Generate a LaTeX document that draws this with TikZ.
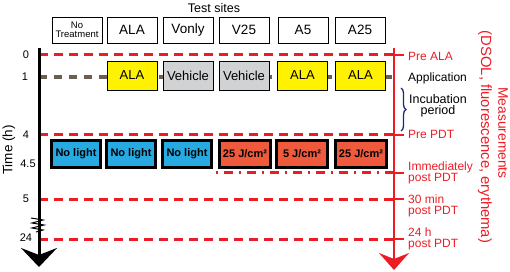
\documentclass[tikz,border=0pt]{standalone}
\usepackage{fontspec}
\setmainfont{Liberation Sans}
\usetikzlibrary{arrows.meta,decorations.pathreplacing}
\definecolor{myred}{HTML}{ED1C24}
\definecolor{myyellow}{HTML}{FFF200}
\definecolor{mygray}{HTML}{D1D2D4}
\definecolor{myblue}{HTML}{27AAE1}
\definecolor{myorange}{HTML}{F05A3C}
\definecolor{mybrown}{HTML}{6B5E52}
\definecolor{mynavy}{HTML}{1B2A78}
\newcommand{\fs}[1]{\fontsize{#1}{#1}\selectfont}
\tikzset{
  headbox/.style={draw, line width=0.9pt, minimum width=50pt, minimum height=26pt, inner sep=0pt, font=\fs{13.5}},
  appbox/.style={draw, line width=0.9pt, minimum width=50pt, minimum height=29pt, inner sep=0pt, font=\fs{13}},
  pdtbox/.style={draw, line width=3pt, minimum height=27pt, inner sep=0pt, font=\bfseries\fs{11}},
  reddash/.style={myred, line width=3pt, dash pattern=on 9pt off 6pt},
  tick/.style={font=\fs{11}},
  rlab/.style={anchor=west, font=\fs{12}, inner sep=0pt, align=left},
}
\begin{document}
\begin{tikzpicture}[x=1pt,y=-1pt]
\useasboundingbox (0,0) rectangle (510,272);

% title
\node[font=\fs{12.5}] (title) at (214,8) {Test sites};

% header boxes
\node[headbox, align=center, font=\fs{9.5}] (hNT) at (77,30) {No\\[-1pt]Treatment};
\node[headbox] (hALA) at (132,30) {ALA};
\node[headbox] (hVonly) at (188,30) {Vonly};
\node[headbox] (hV25) at (244,30) {V25};
\node[headbox] (hA5) at (303,30) {A5};
\node[headbox] (hA25) at (360,30) {A25};

% axes coordinates
\coordinate (Ltop) at (39,48);
\coordinate (Lbot) at (39,267);
\coordinate (Rtop) at (394,48);
\coordinate (Rbot) at (394,270);
\coordinate (L0) at (39,55);   \coordinate (R0) at (394,55);
\coordinate (L1) at (39,77);   \coordinate (R1) at (398,77);
\coordinate (L4) at (39,135);  \coordinate (R4) at (394,135);
\coordinate (M45) at (216,173); \coordinate (R45) at (394,173);
\coordinate (L5) at (39,199);  \coordinate (R5) at (394,199);
\coordinate (L24) at (39,239); \coordinate (R24) at (394,239);

% dashed lines
\draw[mybrown, line width=3.2pt, dash pattern=on 8.3pt off 6.7pt] (L1) -- (R1);
\draw[reddash] (L0) -- (R0);
\draw[reddash] (L4) -- (R4);
\draw[reddash, dash pattern=on 2pt off 6pt on 9pt off 6pt] (M45) -- (R45);
\draw[reddash] (L5) -- (R5);
\draw[reddash] (L24) -- (R24);

% application boxes
\node[appbox, fill=myyellow] (aALA1) at (132,75.5) {ALA};
\node[appbox, fill=mygray] (aVeh1) at (188,75.5) {Vehicle};
\node[appbox, fill=mygray] (aVeh2) at (244,75.5) {Vehicle};
\node[appbox, fill=myyellow] (aALA2) at (302.5,75.5) {ALA};
\node[appbox, fill=myyellow] (aALA3) at (360.5,75.5) {ALA};

% PDT boxes
\node[pdtbox, fill=myblue, minimum width=49pt] (p1) at (76,154) {No light};
\node[pdtbox, fill=myblue, minimum width=49pt] (p2) at (131,154) {No light};
\node[pdtbox, fill=myblue, minimum width=49pt] (p3) at (187,154) {No light};
\node[pdtbox, fill=myorange, minimum width=51pt] (p4) at (245,154) {25 J/cm²};
\node[pdtbox, fill=myorange, minimum width=51pt] (p5) at (302,154) {5 J/cm²};
\node[pdtbox, fill=myorange, minimum width=51pt] (p6) at (361,154) {25 J/cm²};

% left time axis
\draw[line width=3pt, -{Stealth[length=19pt, width=36pt, inset=7pt]}] (Ltop) -- (Lbot);
\draw[line width=1pt] (31,218) -- (43,220) -- (32,223) -- (44,225) -- (32,228) -- (43,230) -- (36,232);

% tick labels
\node[tick] (t0) at (26,55) {0};
\node[tick] (t1) at (25,77) {1};
\node[tick] (t4) at (26,135) {4};
\node[tick] (t45) at (28,164) {4.5};
\node[tick] (t5) at (26,199) {5};
\node[tick] (t24) at (26,238) {24};
\node[rotate=90, font=\fs{13.5}] (time) at (9,150) {Time (h)};

% right measurement axis
\draw[myred, line width=2.5pt, -{Stealth[length=17pt, width=30pt, inset=6pt]}] (Rtop) -- (Rbot);
\foreach \c in {R0,R4,R45,R5,R24}{
  \draw[myred, line width=1.5pt] (\c) -- ++(10,0);
}

% right labels
\node[rlab, text=myred] (lPreALA) at (408,56) {Pre ALA};
\node[rlab] (lApp) at (408,78) {Application};
\draw[mynavy, line width=1.3pt, decorate, decoration={brace, amplitude=5pt}] (401,88) -- (401,131);
\node[font=\fs{12.5}, align=center, inner sep=0pt] (lInc) at (438,106) {Incubation\\[-1pt]period};
\node[rlab, text=myred] (lPrePDT) at (408,134) {Pre PDT};
\node[rlab, text=myred] (lImm) at (408,172.5) {Immediately\\[-1pt]post PDT};
\node[rlab, text=myred] (l30) at (408,205.5) {30 min\\[-1pt]post PDT};
\node[rlab, text=myred] (l24h) at (408,239) {24 h\\[-1pt]post PDT};

% rotated measurements label
\node[rotate=-90, text=myred, font=\fs{13.8}] (meas1) at (503,133) {Measurements};
\node[rotate=-90, text=myred, font=\fs{14.8}] (meas2) at (485,137) {(DSOL, fluorescence, erythema)};
\end{tikzpicture}
\end{document}
